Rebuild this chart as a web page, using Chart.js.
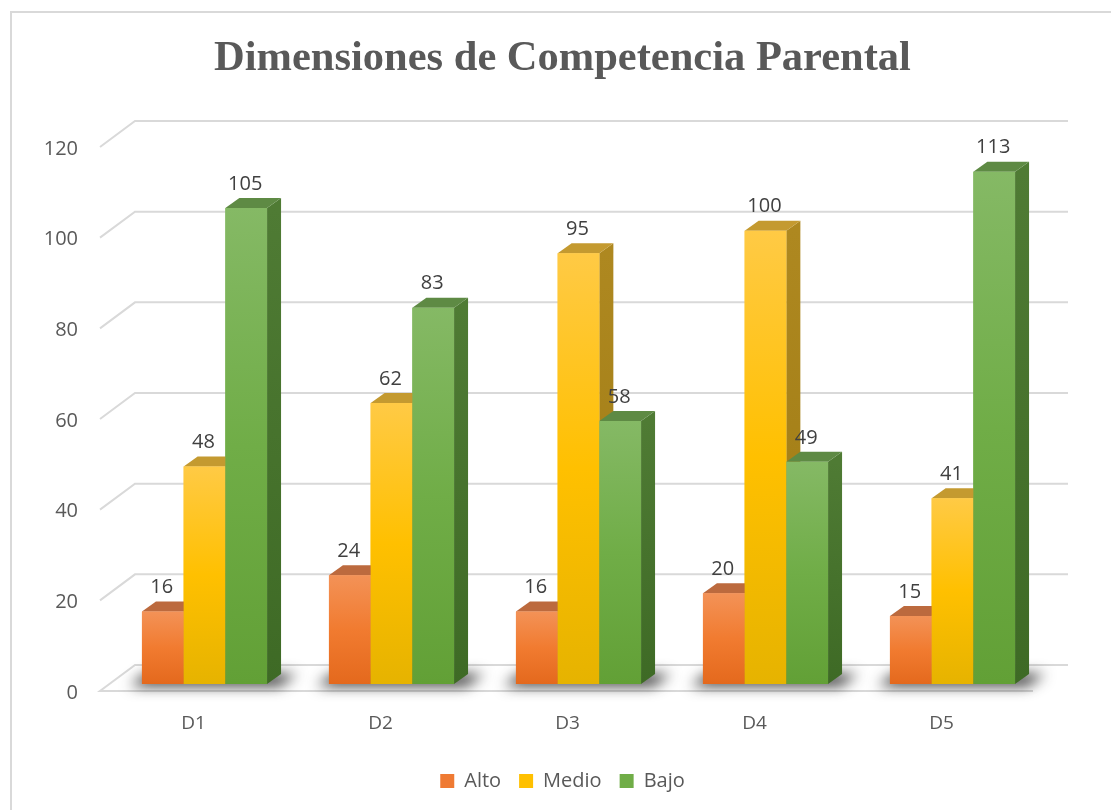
<!DOCTYPE html>
<html>
<head>
<meta charset="utf-8">
<script src="https://cdn.jsdelivr.net/npm/chart.js@4/dist/chart.umd.min.js"></script>
<style>
  html, body { margin: 0; padding: 0; background: #fff; }
  #wrap { position: relative; width: 1111px; height: 810px; }
</style>
</head>
<body>
<div id="wrap"><canvas id="chart"></canvas></div>
<script>
// data
const categories = ['D1', 'D2', 'D3', 'D4', 'D5'];
const alto = [16, 24, 16, 20, 15];
const medio = [48, 62, 95, 100, 41];
const bajo = [105, 83, 58, 49, 113];
const yTicks = [0, 20, 40, 60, 80, 100, 120];

// colours: front gradient (top, middle, bottom), side, cap, legend swatch
const looks = [
  { front: ['#F39257', '#F17B30', '#E4691D'], side: ['#B5602F', '#A4521F'], cap: '#BC6A3E', solid: '#EF7A33' },
  { front: ['#FFCA45', '#FFC000', '#E6B300'], side: ['#AE8820', '#9E7A12'], cap: '#C49A30', solid: '#FFC000' },
  { front: ['#85B965', '#70AD47', '#62A036'], side: ['#4F7B34', '#3E6A25'], cap: '#5E8A44', solid: '#70AD47' }
];

const DX = 14, DY = 10; // bar depth
const GRID = '#d9d9d9';

function frontFill(idx) {
  return function(ctx) {
    const c = looks[idx].front;
    const chart = ctx.chart;
    if (!chart.chartArea || ctx.type !== 'data') return c[1];
    const y = chart.scales.y;
    const top = y.getPixelForValue(ctx.raw);
    const g = chart.ctx.createLinearGradient(0, top, 0, y.getPixelForValue(0));
    g.addColorStop(0, c[0]);
    g.addColorStop(0.5, c[1]);
    g.addColorStop(1, c[2]);
    return g;
  };
}

const columns3d = {
  id: 'columns3d',
  beforeDraw(chart) {
    const ctx = chart.ctx;
    ctx.save();
    ctx.strokeStyle = GRID;
    ctx.lineWidth = 2;
    ctx.beginPath();
    ctx.moveTo(11, chart.height);
    ctx.lineTo(11, 12);
    ctx.lineTo(chart.width, 12);
    ctx.stroke();
    ctx.restore();
  },
  beforeDatasetsDraw(chart) {
    const ctx = chart.ctx, ca = chart.chartArea, y = chart.scales.y;
    const fl = ca.left - 11, bl = ca.left + 24, fr = ca.right - 13, br = ca.right + 22;
    ctx.save();
    ctx.strokeStyle = GRID;
    ctx.lineWidth = 2;
    // back wall and side wall lines
    yTicks.forEach(v => {
      if (v === 0) return;
      const p = y.getPixelForValue(v);
      ctx.beginPath();
      ctx.moveTo(fl, p + 7);
      ctx.lineTo(bl, p - 19);
      ctx.lineTo(br, p - 19);
      ctx.stroke();
    });
    // floor
    const b = y.getPixelForValue(0);
    ctx.beginPath();
    ctx.moveTo(fl, b + 7);
    ctx.lineTo(bl, b - 19);
    ctx.lineTo(br, b - 19);
    ctx.lineTo(fr, b + 7);
    ctx.closePath();
    ctx.fillStyle = '#fff';
    ctx.fill();
    ctx.beginPath();
    ctx.moveTo(fr, b + 7);
    ctx.lineTo(fl, b + 7);
    ctx.lineTo(bl, b - 19);
    ctx.lineTo(br, b - 19);
    ctx.stroke();
    // shadows under each group
    const m0 = chart.getDatasetMeta(0), m2 = chart.getDatasetMeta(2);
    ctx.filter = 'blur(7px)';
    ctx.fillStyle = 'rgba(25,25,25,0.9)';
    categories.forEach((c, i) => {
      const a = m0.data[i], z = m2.data[i];
      const l = a.x - a.width / 2, r = z.x + z.width / 2;
      ctx.beginPath();
      ctx.moveTo(l - 12, b + 2);
      ctx.lineTo(l + DX - 10, b - DY);
      ctx.lineTo(r + DX + 16, b - DY);
      ctx.lineTo(r + 12, b + 2);
      ctx.closePath();
      ctx.fill();
    });
    ctx.restore();
  },
  afterDatasetsDraw(chart) {
    const ctx = chart.ctx;
    ctx.save();
    categories.forEach((c, i) => {
      chart.data.datasets.forEach((ds, d) => {
        const bar = chart.getDatasetMeta(d).data[i];
        const look = looks[d];
        const l = bar.x - bar.width / 2, r = bar.x + bar.width / 2;
        const top = bar.y, base = bar.base;
        // side
        const sg = ctx.createLinearGradient(0, top, 0, base);
        sg.addColorStop(0, look.side[0]);
        sg.addColorStop(1, look.side[1]);
        ctx.fillStyle = sg;
        ctx.beginPath();
        ctx.moveTo(r, top);
        ctx.lineTo(r + DX, top - DY);
        ctx.lineTo(r + DX, base - DY);
        ctx.lineTo(r, base);
        ctx.closePath();
        ctx.fill();
        // cap
        ctx.fillStyle = look.cap;
        ctx.beginPath();
        ctx.moveTo(l, top);
        ctx.lineTo(l + DX, top - DY);
        ctx.lineTo(r + DX, top - DY);
        ctx.lineTo(r, top);
        ctx.closePath();
        ctx.fill();
        // front face by the library itself
        bar.draw(ctx);
      });
    });
    // value labels
    ctx.font = '20px "Open Sans"';
    ctx.fillStyle = '#404040';
    ctx.textAlign = 'center';
    ctx.textBaseline = 'middle';
    chart.data.datasets.forEach((ds, d) => {
      chart.getDatasetMeta(d).data.forEach((bar, i) => {
        ctx.fillText(String(ds.data[i]), bar.x - 1, bar.y - 24);
      });
    });
    ctx.restore();
  }
};

new Chart(document.getElementById('chart'), {
  type: 'bar',
  data: {
    labels: categories,
    datasets: [
      { label: 'Alto', data: alto, backgroundColor: frontFill(0) },
      { label: 'Medio', data: medio, backgroundColor: frontFill(1) },
      { label: 'Bajo', data: bajo, backgroundColor: frontFill(2) }
    ]
  },
  options: {
    responsive: true,
    maintainAspectRatio: false,
    animation: false,
    layout: { padding: { left: 14, right: 0, top: 0, bottom: 9 } },
    datasets: { bar: { barPercentage: 1, categoryPercentage: 0.669, borderWidth: 0 } },
    scales: {
      x: {
        grid: { display: false, drawTicks: false },
        border: { display: false },
        ticks: { color: '#595959', font: { family: 'Open Sans', size: 19 }, padding: 28, labelOffset: -11 },
        afterFit(s) { s.height = 69; }
      },
      y: {
        min: 0,
        max: 120,
        grid: { display: false, drawTicks: false },
        border: { display: false },
        ticks: { stepSize: 20, color: '#595959', font: { family: 'Open Sans', size: 20 }, padding: 33, labelOffset: 9 },
        afterFit(s) { s.width = 97; }
      },
      // empty right-hand axis, only keeps room for the 3D depth
      yRight: {
        position: 'right',
        grid: { display: false, drawTicks: false },
        border: { display: false },
        ticks: { display: false },
        afterFit(s) { s.width = 65; }
      }
    },
    plugins: {
      tooltip: { enabled: false },
      title: {
        display: true,
        text: 'Dimensiones de Competencia Parental',
        color: '#595959',
        font: { family: '"Liberation Serif", "Times New Roman", serif', size: 42.5, weight: 'bold' },
        padding: { top: 34, bottom: 55 }
      },
      legend: {
        position: 'bottom',
        labels: {
          color: '#595959',
          font: { family: 'Open Sans', size: 20 },
          boxWidth: 14,
          boxHeight: 14,
          padding: 18,
          generateLabels(chart) {
            return Chart.defaults.plugins.legend.labels.generateLabels(chart).map(it => {
              it.fillStyle = looks[it.datasetIndex].solid;
              it.strokeStyle = looks[it.datasetIndex].solid;
              it.lineWidth = 0;
              return it;
            });
          }
        }
      }
    }
  },
  plugins: [columns3d]
});
</script>
</body>
</html>
